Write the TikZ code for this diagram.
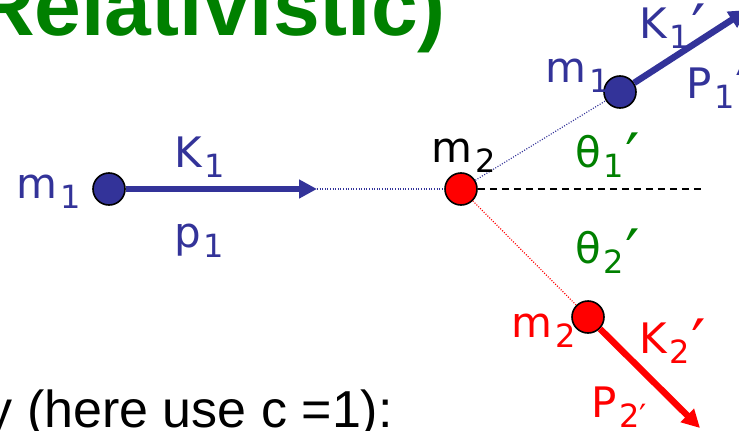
\documentclass[tikz,border=0pt]{standalone}
\usepackage{fontspec}
\usepackage{xcolor}
\usetikzlibrary{arrows.meta,positioning,calc}

\newfontfamily\lblfont{DejaVu Sans}
\newfontfamily\arialfont{Liberation Sans}
\definecolor{navy}{RGB}{51,51,153}
\definecolor{ttlgreen}{RGB}{0,128,0}
\newcommand{\lsub}[1]{\hspace{3pt}\raisebox{-10pt}{\fontsize{32}{32}\selectfont #1}}
\newcommand{\lprime}{\hspace{1pt}\raisebox{-12pt}{\fontsize{64}{64}\selectfont ′}}

\begin{document}
\begin{tikzpicture}[x=1pt, y=-1pt,
    ball/.style={circle, draw=black, line width=1.6pt, minimum size=32pt, inner sep=0pt},
    lbl/.style={anchor=base west, inner sep=0pt, font=\lblfont\fontsize{42}{42}\selectfont},
    track/.style={line width=6.5pt, -{Triangle[length=18pt,width=18pt]}},
    trail/.style={line width=1.2pt, dash pattern=on 1pt off 1.6pt}]
    \useasboundingbox (0,0) rectangle (739,431);

    % Title and text
    \node[anchor=base east, inner sep=0pt, text=ttlgreen, font=\arialfont\bfseries\fontsize{84}{84}\selectfont] (title) at (446,35) {Relativistic)};
    \node[anchor=base east, inner sep=0pt, font=\arialfont\fontsize{52}{52}\selectfont] (note) at (393,427) {y (here use c =1):};

    % Incoming particle and target
    \node[ball, fill=navy] (m1) at (109,189) {};
    \node[ball, fill=red] (m2) at (461,189) {};
    \coordinate (k1tip) at (317,189);
    \coordinate (axisend) at (703,189);
    \draw[track, navy] (m1) -- (k1tip);
    \draw[trail, navy] (k1tip) -- (m2);
    \draw[line width=1.5pt, dash pattern=on 7pt off 5pt] (m2) -- (axisend);

    % Outgoing particles
    \node[ball, fill=navy] (m1out) at (620,92) {};
    \node[ball, fill=red] (m2out) at (588,317) {};
    \coordinate (k1outtip) at (747,10);
    \coordinate (k2outtip) at (700,428);
    \draw[trail, navy] (m2) -- (m1out);
    \draw[trail, red] (m2) -- (m2out);
    \draw[track, navy] (m1out) -- (k1outtip);
    \draw[track, red] (m2out) -- (k2outtip);

    % Labels
    \node[lbl, text=navy] (m1lbl) at (16,198) {m\lsub{1}};
    \node[lbl, text=navy] (k1lbl) at (174,167) {K\lsub{1}};
    \node[lbl, text=navy] (p1lbl) at (174,247) {p\lsub{1}};
    \node[lbl, text=black] (m2lbl) at (431,162) {m\lsub{2}};
    \node[lbl, text=navy] (k1outlbl) at (639,38) {K\lsub{1}\lprime};
    \node[lbl, text=navy] (m1outlbl) at (545,82) {m\lsub{1}};
    \node[lbl, text=navy] (p1outlbl) at (686,98) {P\lsub{1}\lprime};
    \node[lbl, text=ttlgreen] (th1lbl) at (575,167) {θ\lsub{1}\lprime};
    \node[lbl, text=ttlgreen] (th2lbl) at (575,263) {θ\lsub{2}\lprime};
    \node[lbl, text=red] (m2outlbl) at (511,337) {m\lsub{2}};
    \node[lbl, text=red] (k2outlbl) at (639,353) {K\lsub{2}\lprime};
    \node[lbl, text=red] (p2outlbl) at (591,417) {P\lsub{2′}};
\end{tikzpicture}
\end{document}
